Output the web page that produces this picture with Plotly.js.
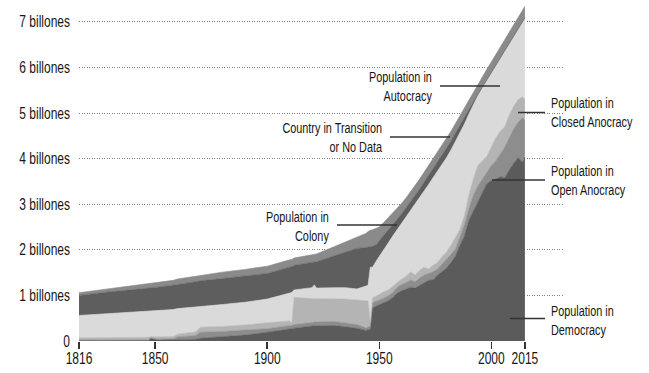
<!DOCTYPE html>
<html>
<head>
<meta charset="utf-8">
<script src="https://cdn.plot.ly/plotly-3.0.1.min.js"></script>
<style>html,body{margin:0;padding:0;background:#fff;}#chart{width:649px;height:373px;}</style>
</head>
<body>
<div id="chart"></div>
<script>
const years = [1816,1830,1847,1848,1851,1858,1860,1868,1870,1880,1890,1900,1910,1911,1912,1920,1921,1922,1930,1935,1940,1944,1945,1946,1947,1949,
  1950,1952,1954,1956,1958,1960,1962,1964,1966,1968,1970,1972,1974,1976,1978,1980,1982,1984,1986,1988,1990,1992,1994,1996,1998,2000,2002,2004,2006,2008,2010,2012,2014,2015];

const democracy = [0.01,0.01,0.01,0.06,0.02,0.03,0.03,0.04,0.06,0.09,0.13,0.19,0.27,0.27,0.28,0.33,0.33,0.34,0.34,0.31,0.28,0.23,0.24,0.26,0.73,0.77,
  0.80,0.84,0.88,0.95,1.05,1.10,1.14,1.18,1.16,1.22,1.28,1.33,1.34,1.45,1.52,1.60,1.72,1.86,2.10,2.30,2.65,2.85,3.05,3.25,3.45,3.52,3.55,3.60,3.58,3.75,3.90,4.02,3.92,4.03];

const openAnocracy = [0.01,0.01,0.02,0.01,0.02,0.02,0.06,0.08,0.13,0.12,0.11,0.08,0.07,0.07,0.08,0.08,0.08,0.08,0.09,0.09,0.08,0.06,0.06,0.06,0.11,0.10,
  0.10,0.10,0.11,0.11,0.13,0.14,0.14,0.16,0.14,0.16,0.17,0.15,0.18,0.13,0.16,0.18,0.18,0.16,0.18,0.25,0.25,0.35,0.35,0.30,0.25,0.33,0.40,0.50,0.67,0.70,0.75,0.78,0.98,0.80];

const closedAnocracy = [0.05,0.05,0.05,0.03,0.05,0.05,0.06,0.08,0.11,0.11,0.11,0.13,0.10,0.06,0.60,0.52,0.52,0.51,0.50,0.52,0.54,0.59,0.58,0.10,0.11,0.12,
  0.12,0.14,0.13,0.14,0.12,0.12,0.14,0.18,0.15,0.17,0.17,0.10,0.14,0.14,0.17,0.17,0.20,0.26,0.17,0.20,0.30,0.35,0.45,0.40,0.35,0.40,0.50,0.50,0.45,0.50,0.50,0.50,0.45,0.47];

const autocracy = [0.49,0.53,0.58,0.56,0.58,0.59,0.56,0.54,0.46,0.48,0.50,0.52,0.61,0.67,0.16,0.24,0.30,0.23,0.24,0.25,0.24,0.32,0.34,1.20,0.67,0.79,
  0.83,0.92,1.03,1.10,1.14,1.21,1.29,1.33,1.54,1.58,1.66,1.85,1.92,2.00,2.02,2.07,2.09,2.10,2.11,2.01,1.78,1.65,1.53,1.60,1.66,1.62,1.58,1.59,1.65,1.56,1.53,1.53,1.65,1.77];

const colony = [0.44,0.48,0.50,0.51,0.51,0.53,0.53,0.56,0.56,0.57,0.57,0.56,0.57,0.56,0.54,0.55,0.50,0.58,0.70,0.78,0.89,0.85,0.84,0.45,0.46,0.34,
  0.35,0.32,0.28,0.25,0.23,0.22,0.21,0.20,0.20,0.20,0.20,0.20,0.20,0.20,0.20,0.20,0.19,0.18,0.17,0.15,0.12,0.06,0.03,0.02,0.02,0.02,0.02,0.02,0.02,0.02,0.02,0.02,0.02,0.02];

const transition = [0.06,0.07,0.09,0.09,0.11,0.11,0.12,0.12,0.13,0.14,0.15,0.16,0.16,0.16,0.16,0.16,0.16,0.17,0.20,0.22,0.25,0.31,0.34,0.36,0.36,0.36,
  0.30,0.28,0.27,0.25,0.24,0.23,0.22,0.22,0.22,0.22,0.22,0.22,0.22,0.22,0.22,0.22,0.22,0.21,0.21,0.21,0.21,0.22,0.23,0.23,0.23,0.23,0.23,0.23,0.23,0.23,0.23,0.24,0.24,0.25];

const xTicks = [1816,1850,1900,1950,2000,2015];
const yTicks = [0,1,2,3,4,5,6,7];
const yTickText = ['0','1 billones','2 billones','3 billones','4 billones','5 billones','6 billones','7 billones'];

const layers = [
  {name:'Democracy', y:democracy, color:'#5b5b5b'},
  {name:'Open Anocracy', y:openAnocracy, color:'#8d8d8d'},
  {name:'Closed Anocracy', y:closedAnocracy, color:'#b4b4b4'},
  {name:'Autocracy', y:autocracy, color:'#dadada'},
  {name:'Colony', y:colony, color:'#5e5e5e'},
  {name:'Transition or No Data', y:transition, color:'#8a8a8a'}
];

const traces = layers.map(l => ({
  type:'scatter', mode:'lines', x:years, y:l.y, name:l.name,
  stackgroup:'pop', fillcolor:l.color, line:{color:l.color, width:0.6},
  hoverinfo:'skip'
}));

const FONT = '"Liberation Sans",Arial,sans-serif';
const TXT = '#161616';
const L = 79, R = 563, T = 2, B = 341;
const px = x => (x - L) / (R - L);
const py = y => (B - y) / (B - T);

const notes = [
  {text:'Population in<br>Autocracy', x:434, y:86.5, anchor:'right', line:[440,500,86]},
  {text:'Country in Transition<br>or No Data', x:384, y:137.5, anchor:'right', line:[390,450,137]},
  {text:'Population in<br>Colony', x:331, y:226, anchor:'right', line:[337,397,225]},
  {text:'Population in<br>Closed Anocracy', x:550, y:113, anchor:'left', line:[518,545,112.5]},
  {text:'Population in<br>Open Anocracy', x:550, y:180.5, anchor:'left', line:[492,545,180]},
  {text:'Population in<br>Democracy', x:550, y:320, anchor:'left', line:[510,545,318.5]}
];

const annotations = notes.map(n => ({
  xref:'paper', yref:'paper', x:px(n.x), y:py(n.y), text:n.text, showarrow:false,
  xanchor:n.anchor, yanchor:'middle', align:n.anchor, borderpad:0,
  font:{family:FONT, size:14.5, color:TXT}
}));
const shapes = notes.map(n => ({
  type:'line', xref:'paper', yref:'paper', x0:px(n.line[0]), x1:px(n.line[1]), y0:py(n.line[2]), y1:py(n.line[2]),
  line:{color:'#333', width:1.5}, layer:'above'
}));

const layout = {
  width:649, height:373,
  margin:{l:L, r:649-R, t:T, b:373-B},
  paper_bgcolor:'#fff', plot_bgcolor:'#fff',
  showlegend:false,
  font:{family:FONT, size:14, color:TXT},
  xaxis:{range:[1816,2032], tickvals:xTicks, ticktext:xTicks.map(String), ticks:'outside', ticklen:7,
    tickwidth:1.5, tickcolor:'#333', showgrid:false, zeroline:false, showline:false, fixedrange:true, tickangle:0,
    ticklabelstandoff:-4, tickfont:{family:FONT, size:16, color:TXT}},
  yaxis:{range:[0,(B-T)/45.6], tickvals:yTicks, ticktext:yTickText, ticks:'', showgrid:true,
    gridcolor:'#808080', griddash:'1px,1.5px', gridwidth:1, zeroline:false, showline:false, fixedrange:true,
    ticklabelstandoff:8, tickfont:{family:FONT, size:16, color:TXT}},
  annotations:annotations,
  shapes:shapes
};

// Narrow the type (like a condensed face) by scaling each text about its anchor point.
function condense() {
  document.querySelectorAll('#chart svg text').forEach(t => {
    if (t.dataset.cond) return;
    t.dataset.cond = '1';
    const ox = parseFloat(t.getAttribute('x')) || 0;
    const prev = t.getAttribute('transform') || '';
    t.setAttribute('transform', (prev + ` translate(${ox},0) scale(0.75,1) translate(${-ox},0)`).trim());
  });
}

Plotly.newPlot('chart', traces, layout, {staticPlot:true, displayModeBar:false}).then(condense);
</script>
</body>
</html>
